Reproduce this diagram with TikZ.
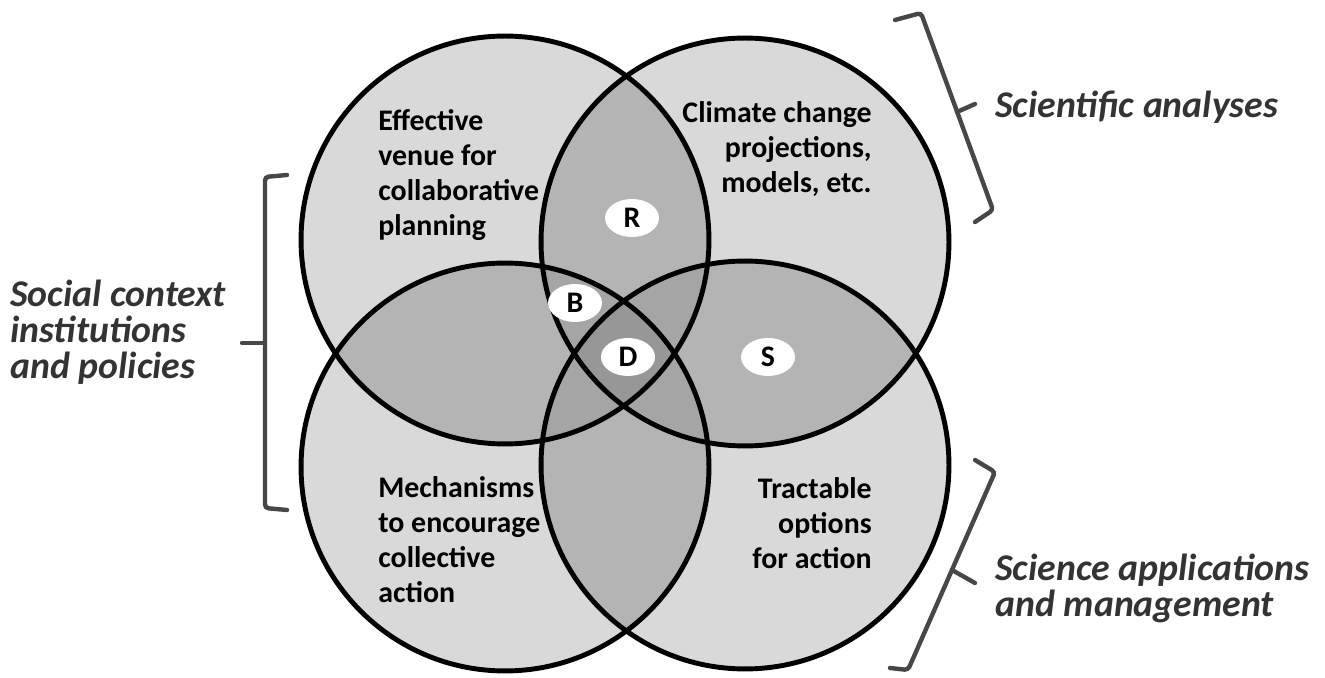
\documentclass[tikz,border=0pt]{standalone}
\usepackage{fontspec}
\setmainfont{Carlito}
\usetikzlibrary{shapes.geometric}

\definecolor{onefill}{HTML}{D9D9D9}
\definecolor{twofill}{HTML}{B4B4B4}
\definecolor{threefill}{HTML}{A5A5A5}
\definecolor{fourfill}{HTML}{979797}
\definecolor{bracegray}{HTML}{474747}
\definecolor{sidegray}{HTML}{333333}
\newcommand{\vrad}{4.08cm}

\begin{document}
\begin{tikzpicture}[x=0.02cm, y=-0.02cm, % one unit = one pixel of the sketch
    ring/.style = {draw=black, line width=2.8pt},
    tag/.style = {ellipse, fill=white, minimum width=1.08cm, minimum height=0.76cm,
                  inner sep=0pt, font=\fontsize{17}{19}\selectfont\bfseries},
    inner/.style = {font=\fontsize{17}{19.9}\selectfont\bfseries, inner sep=0pt},
    side/.style = {font=\fontsize{21.5}{20.5}\selectfont\bfseries\itshape, text=sidegray,
                   inner sep=0pt, align=left, anchor=west},
    brace/.style = {draw=bracegray, line width=2.5pt, rounded corners=2pt, line cap=round}
]
\useasboundingbox (0,0) rectangle (1325,678);

\coordinate (TL) at (505,240);
\coordinate (TR) at (745,242);
\coordinate (BL) at (505,467);
\coordinate (BR) at (745,465);

% one set
\foreach \c in {TL,TR,BL,BR} \fill[onefill] (\c) circle (\vrad);
% two sets
\foreach \a/\b in {TL/TR, TL/BL, TL/BR, TR/BL, TR/BR, BL/BR} {
  \begin{scope}
    \clip (\a) circle (\vrad);
    \fill[twofill] (\b) circle (\vrad);
  \end{scope}
}
% three sets
\foreach \a/\b/\c in {TL/TR/BL, TL/TR/BR, TL/BL/BR, TR/BL/BR} {
  \begin{scope}
    \clip (\a) circle (\vrad);
    \clip (\b) circle (\vrad);
    \fill[threefill] (\c) circle (\vrad);
  \end{scope}
}
% all four
\begin{scope}
  \clip (TL) circle (\vrad);
  \clip (TR) circle (\vrad);
  \clip (BL) circle (\vrad);
  \fill[fourfill] (BR) circle (\vrad);
\end{scope}
\foreach \c in {TL,TR,BL,BR} \draw[ring] (\c) circle (\vrad);

\node[inner, align=left, anchor=west] (venue) at (378,175) {Effective\\venue for\\collaborative\\planning};
\node[inner, align=right, anchor=east] (climate) at (872,149) {Climate change\\projections,\\models, etc.};
\node[inner, align=left, anchor=west] (mechanisms) at (378,540) {Mechanisms\\to encourage\\collective\\action};
\node[inner, align=right, anchor=east] (options) at (872,523) {Tractable\\options\\for action};

\node[tag] (R) at (632,218) {R};
\node[tag] (B) at (575,303) {B};
\node[tag] (D) at (628,357) {D};
\node[tag] (S) at (768,357) {S};

\node[side] (social) at (10,332) {Social context\\institutions\\and policies};
\node[side] (analyses) at (995,107) {Scientific analyses};
\node[side] (applications) at (995,588) {Science applications\\and management};

% brackets
\draw[brace] (287,175) -- (265,177) -- (265,508) -- (287,510);
\draw[brace] (265,343) -- (242,343);
\draw[brace] (895,20) -- (921,13) -- (993,210) -- (975,222);
\draw[brace] (957,112) -- (975,104);
\draw[brace] (975,460) -- (995,472) -- (908,670) -- (890,668);
\draw[brace] (952,570) -- (975,583);
\end{tikzpicture}
\end{document}
